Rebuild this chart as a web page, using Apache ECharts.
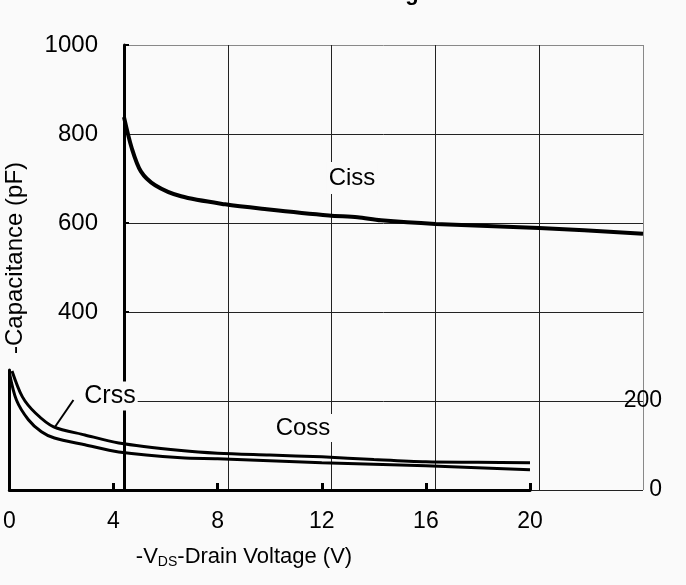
<!DOCTYPE html>
<html><head><meta charset="utf-8">
<script src="https://cdn.jsdelivr.net/npm/echarts@6/dist/echarts.min.js"></script>
<style>html,body{margin:0;padding:0;background:#fafafa}#c{width:686px;height:585px}</style>
</head><body><div id="c"></div>
<script>
// Drain voltage ticks
const xTicks = [0, 4, 8, 12, 16, 20];
const yTicks = [0, 200, 400, 600, 800, 1000];
// Ciss (upper panel)
const cissV = [0, 0.3, 0.65, 1.2, 2.2, 3.9, 5.5, 7.9, 9.0, 9.9, 12, 16, 20];
const cissC = [838, 768, 716, 685, 660, 642, 631, 617, 613, 606, 598, 589, 576];
// Coss (lower panel)
const cossV = [0.1, 0.5, 1, 1.7, 2.9, 4.2, 6.6, 8, 10, 12, 14, 16, 18, 20];
const cossC = [266, 208, 172, 141, 123, 105, 88, 82, 78, 74, 68, 63, 62, 61];
// Crss (lower panel)
const crssV = [0, 0.27, 0.73, 1.23, 1.73, 2.9, 4.2, 6.6, 8, 12, 16, 20];
const crssC = [262, 201, 157, 130, 116, 101, 85, 72, 70, 61, 54, 45];
// Crss pointer (data units)
const arrowFrom = [2.46, 201];
const arrowTo = [1.73, 139];

const F = 'Liberation Sans, Arial, sans-serif';
const pair = (xs, ys) => xs.map((x, i) => [x, ys[i]]);

const chart = echarts.init(document.getElementById('c'));
chart.setOption({
  backgroundColor: '#fafafa',
  animation: false,
  textStyle: {fontFamily: F},
  grid: [
    {left: 124, right: 43, top: 45, bottom: 95},
    {left: 8, right: 156, top: 370, bottom: 95}
  ],
  xAxis: [
    {gridIndex: 0, type: 'value', min: 0, max: 20, interval: 4,
     axisLine: {show: false}, axisTick: {show: false}, axisLabel: {show: false},
     splitLine: {show: true, lineStyle: {color: ['#222','#222','#222','#222','#222','#888'], width: 1}}},
    {gridIndex: 1, type: 'value', min: 0, max: 20, interval: 4,
     axisLine: {show: true, lineStyle: {color: '#000', width: 3}},
     axisTick: {show: true, inside: true, length: 7, lineStyle: {color: '#000', width: 3}},
     axisLabel: {show: true, fontSize: 23, color: '#000', margin: 20, fontFamily: F},
     splitLine: {show: false}}
  ],
  yAxis: [
    {gridIndex: 0, type: 'value', min: 0, max: 1000, interval: 200,
     axisLine: {show: true, lineStyle: {color: '#000', width: 3}},
     axisTick: {show: true, inside: true, length: 5, lineStyle: {color: '#000', width: 2}},
     axisLabel: {fontSize: 24, color: '#000', margin: 26, fontFamily: F,
                 formatter: v => (v >= 400 ? String(v) : '')},
     splitLine: {show: true, lineStyle: {color: ['#222','#222','#222','#222','#222','#888'], width: 1}}},
    {gridIndex: 1, type: 'value', min: 0, max: 268, interval: 200,
     axisLine: {show: true, lineStyle: {color: '#000', width: 3}},
     axisTick: {show: false}, axisLabel: {show: false}, splitLine: {show: false}},
    {gridIndex: 1, type: 'value', min: 0, max: 268, interval: 200, position: 'right', offset: 92,
     axisLine: {show: false}, axisTick: {show: false}, splitLine: {show: false},
     axisLabel: {fontSize: 23, color: '#000', align: 'right', margin: 40, fontFamily: F,
                 formatter: v => (v === 0 || v === 200 ? String(v) : '')}}
  ],
  series: [
    {name: 'Ciss', type: 'line', xAxisIndex: 0, yAxisIndex: 0, data: pair(cissV, cissC),
     smooth: 0.3, showSymbol: false, lineStyle: {color: '#000', width: 4}, z: 5},
    {name: 'Coss', type: 'line', xAxisIndex: 1, yAxisIndex: 1, data: pair(cossV, cossC),
     smooth: 0.3, showSymbol: false, lineStyle: {color: '#000', width: 3}, z: 5},
    {name: 'Crss', type: 'line', xAxisIndex: 1, yAxisIndex: 1, data: pair(crssV, crssC),
     smooth: 0.3, showSymbol: false, lineStyle: {color: '#000', width: 3}, z: 5,
     markLine: {silent: true, symbol: ['none', 'none'], label: {show: false},
       lineStyle: {color: '#000', width: 2, type: 'solid'},
       data: [[{coord: arrowFrom}, {coord: arrowTo}]]}}
  ],
  graphic: [
    {type: 'text', x: 342, y: 5, z: 10,
     style: {text: 'and Gate Voltage', fontSize: 22, fontWeight: 'bold', fill: '#000', fontFamily: F,
             align: 'center', verticalAlign: 'bottom'}},
    {type: 'text', x: 352, y: 178, z: 10,
     style: {text: 'Ciss', fontSize: 24, fill: '#000', fontFamily: F, align: 'center', verticalAlign: 'middle',
             backgroundColor: '#fafafa', padding: [4, 2]}},
    {type: 'text', x: 110, y: 396, z: 10,
     style: {text: 'Crss', fontSize: 25, fill: '#000', fontFamily: F, align: 'center', verticalAlign: 'middle',
             backgroundColor: '#fafafa', padding: [2, 2]}},
    {type: 'text', x: 303, y: 428, z: 10,
     style: {text: 'Coss', fontSize: 24, fill: '#000', fontFamily: F, align: 'center', verticalAlign: 'middle',
             backgroundColor: '#fafafa', padding: [2, 2]}},
    {type: 'text', x: 15, y: 258, rotation: Math.PI / 2, z: 10,
     style: {text: '-Capacitance (pF)', fontSize: 24, fill: '#000', fontFamily: F, align: 'center', verticalAlign: 'middle'}},
    {type: 'text', x: 244, y: 557, z: 10,
     style: {text: '-V{s|DS}-Drain Voltage (V)', fontSize: 22, fill: '#000', fontFamily: F,
             align: 'center', verticalAlign: 'middle',
             rich: {s: {fontSize: 14, fill: '#000', fontFamily: F, padding: [10, 0, 0, 0]}}}}
  ]
});
</script></body></html>
